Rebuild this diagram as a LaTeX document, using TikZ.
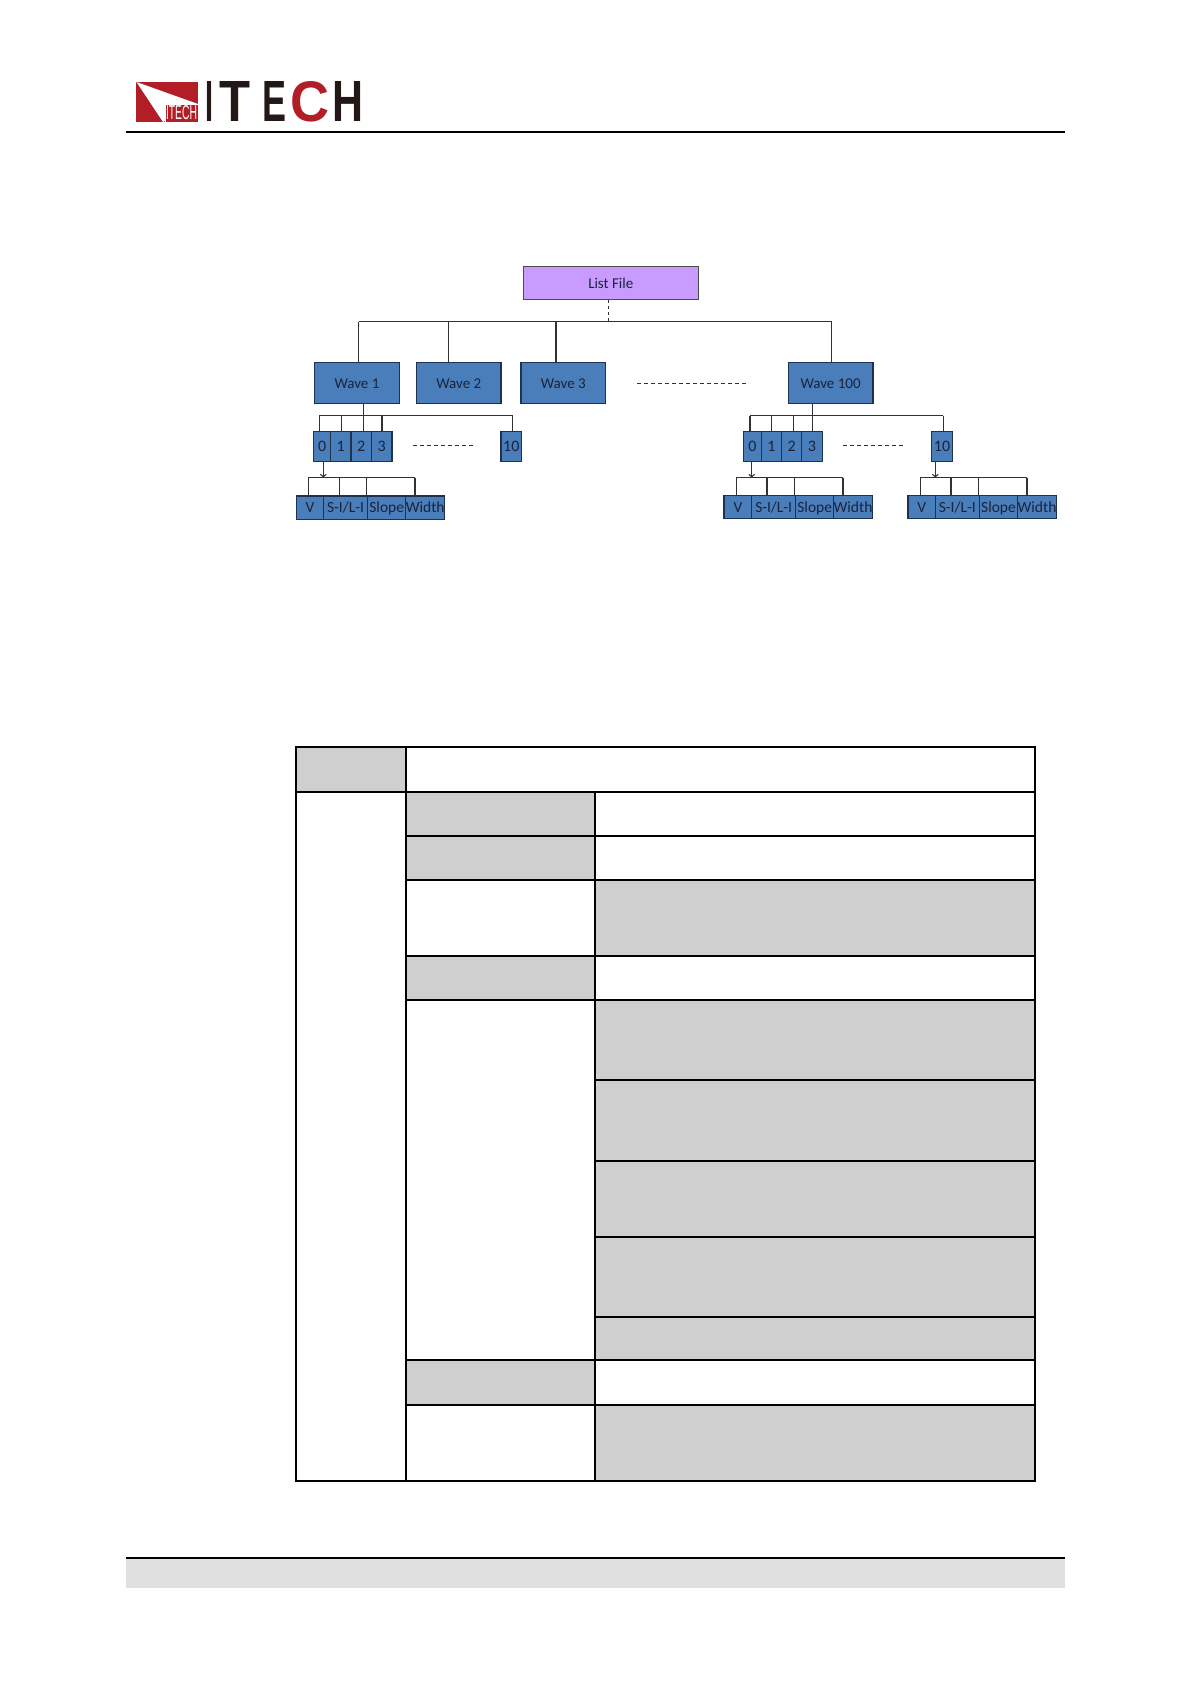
\documentclass[tikz,border=0pt]{standalone}
\usepackage{fontspec}
\setmainfont{Carlito}
\newfontfamily\logofont{Liberation Sans}
\definecolor{wavecolor}{RGB}{74,126,187}
\definecolor{filecolor}{RGB}{199,155,255}
\definecolor{edgecolor}{RGB}{30,50,80}
\definecolor{wirecolor}{RGB}{50,50,50}
\definecolor{labelcolor}{RGB}{25,35,60}
\definecolor{cellcolor}{RGB}{207,207,207}
\definecolor{bandcolor}{RGB}{224,224,224}
\definecolor{logored}{RGB}{178,30,38}
\definecolor{logoblack}{RGB}{35,24,21}

\begin{document}
\begin{tikzpicture}[x=1pt, y=-1pt,
                    block/.style={rectangle, draw=edgecolor, fill=wavecolor, line width=1.3pt,
                    text=labelcolor, inner sep=0pt, text height=10pt, text depth=0pt,
                    font=\fontsize{15}{18}\selectfont},
                    filebox/.style={block, fill=filecolor, draw=black!70, minimum width=175pt, minimum height=32.6pt},
                    wavebox/.style={block, minimum width=84.6pt, minimum height=40.6pt},
                    stepcell/.style={block, minimum height=29.6pt, font=\fontsize{16}{18}\selectfont},
                    fieldcell/.style={block, minimum height=23.3pt, font=\fontsize{15.5}{18}\selectfont},
                    wire/.style={draw=wirecolor, line width=1.35pt},
                    gapline/.style={draw=black!80, line width=1pt, dashed, dash pattern=on 4pt off 3pt},
                    cell/.style={fill=cellcolor},
                    rule/.style={draw=black, line width=2pt}]
    \useasboundingbox (0,0) rectangle (1191,1684);

    \fill [logored] (136,82) rectangle (198,122);
    \fill [white] (136.5,82) -- (198,104) -- (163,122) -- cycle;
    \node [inner sep=0pt, fill=logored, draw=white, line width=0.4pt, text=white, minimum width=33pt, minimum height=18pt] (logosmall) at (181.5,113) {\logofont\resizebox{31pt}{14pt}{ITECH}};
    \node [inner sep=0pt, anchor=west] (logotext) at (205,102) {\logofont\bfseries\resizebox{8pt}{40pt}{\textcolor{logoblack}{I}}\hspace{6pt}\resizebox{31pt}{40pt}{\textcolor{logoblack}{T}}\hspace{12pt}\resizebox{24pt}{40pt}{\textcolor{logoblack}{E}}\hspace{4pt}\resizebox{39pt}{40pt}{\textcolor{logored}{C}}\hspace{3pt}\resizebox{31pt}{40pt}{\textcolor{logoblack}{H}}};
    \draw [line width=2pt] (126,132) -- (1065,132);

    \node [filebox] (listfile) at (610.8,283) {List File};
    \node [wavebox] (wave1) at (357,383) {Wave 1};
    \node [wavebox] (wave2) at (458.8,383) {Wave 2};
    \node [wavebox] (wave3) at (563.3,383) {Wave 3};
    \node [wavebox] (wave100) at (830.6,383) {Wave 100};

    \node [stepcell, minimum width=17pt] (a0) at (322.2,446.5) {0};
    \node [stepcell, minimum width=20.3pt] (a1) at (340.8,446.5) {1};
    \node [stepcell, minimum width=20.3pt] (a2) at (361.2,446.5) {2};
    \node [stepcell, minimum width=20.7pt] (a3) at (381.6,446.5) {3};
    \node [stepcell, minimum width=20.7pt] (a10) at (511.3,446.5) {10};
    \node [stepcell, minimum width=17.6pt] (b0) at (752.5,446.5) {0};
    \node [stepcell, minimum width=20.4pt] (b1) at (771.5,446.5) {1};
    \node [stepcell, minimum width=20pt] (b2) at (791.7,446.5) {2};
    \node [stepcell, minimum width=20.6pt] (b3) at (812,446.5) {3};
    \node [stepcell, minimum width=20.6pt] (b10) at (942,446.5) {10};

    \node [fieldcell, minimum width=27.4pt] (av) at (310,507.7) {V};
    \node [fieldcell, minimum width=43.6pt] (asl) at (345.5,507.7) {S-I/L-I};
    \node [fieldcell, minimum width=38.7pt] (aslope) at (386.7,507.7) {Slope};
    \node [fieldcell, minimum width=38.3pt] (awidth) at (425.2,507.7) {Width};
    \node [fieldcell, minimum width=27.7pt] (bv) at (737.9,507) {V};
    \node [fieldcell, minimum width=44pt] (bsl) at (773.7,507) {S-I/L-I};
    \node [fieldcell, minimum width=38pt] (bslope) at (814.7,507) {Slope};
    \node [fieldcell, minimum width=38.6pt] (bwidth) at (853,507) {Width};
    \node [fieldcell, minimum width=27.3pt] (cv) at (921.7,507) {V};
    \node [fieldcell, minimum width=44pt] (csl) at (957.3,507) {S-I/L-I};
    \node [fieldcell, minimum width=38.4pt] (cslope) at (998.5,507) {Slope};
    \node [fieldcell, minimum width=38.6pt] (cwidth) at (1037,507) {Width};

    \coordinate (top0) at (608,321.7);
    \coordinate (top1) at (358.7,321.7);
    \coordinate (top2) at (448.3,321.7);
    \coordinate (top3) at (556,321.7);
    \coordinate (top100) at (831.7,321.7);
    \coordinate (abus) at (363.3,415.7);
    \coordinate (abus0) at (319.3,415.7);
    \coordinate (abus1) at (341.3,415.7);
    \coordinate (abus3) at (382,415.7);
    \coordinate (abus10) at (512.7,415.7);
    \coordinate (bbus) at (812.7,415.7);
    \coordinate (bbus0) at (750,415.7);
    \coordinate (bbus1) at (771.3,415.7);
    \coordinate (bbus2) at (793.3,415.7);
    \coordinate (bbus10) at (943.3,415.7);
    \coordinate (af) at (323.3,477.7);
    \coordinate (af0) at (308.3,477.7);
    \coordinate (af1) at (339.3,477.7);
    \coordinate (af2) at (366.7,477.7);
    \coordinate (af3) at (415,477.7);
    \coordinate (bf) at (751.7,477.7);
    \coordinate (bf0) at (736.3,477.7);
    \coordinate (bf1) at (767,477.7);
    \coordinate (bf2) at (794.7,477.7);
    \coordinate (bf3) at (843,477.7);
    \coordinate (cf) at (935.3,477.7);
    \coordinate (cf0) at (920.3,477.7);
    \coordinate (cf1) at (951,477.7);
    \coordinate (cf2) at (978.7,477.7);
    \coordinate (cf3) at (1027,477.7);

    \draw [gapline, dash pattern=on 3.5pt off 2.5pt] (top0 |- listfile.south) -- (top0);
    \draw [wire] (top1) -- (top100);
    \draw [wire] (top1) -- (top1 |- wave1.north);
    \draw [wire] (top2) -- (top2 |- wave2.north);
    \draw [wire] (top3) -- (top3 |- wave3.north);
    \draw [wire] (top100) -- (top100 |- wave100.north);
    \draw [gapline, shorten <=31pt, shorten >=41pt] (wave3.east) -- (wave100.west);

    \draw [wire] (abus0) -- (abus10);
    \draw [wire] (abus |- wave1.south) -- (abus |- a2.north);
    \draw [wire] (abus0) -- (abus0 |- a0.north);
    \draw [wire] (abus1) -- (abus1 |- a1.north);
    \draw [wire] (abus3) -- (abus3 |- a3.north);
    \draw [wire] (abus10) -- (abus10 |- a10.north);
    \draw [gapline, shorten <=20pt, shorten >=26pt] ([yshift=1pt]a3.east) -- ([yshift=1pt]a10.west);

    \draw [wire] (bbus0) -- (bbus10);
    \draw [wire] (bbus |- wave100.south) -- (bbus |- b3.north);
    \draw [wire] (bbus0) -- (bbus0 |- b0.north);
    \draw [wire] (bbus1) -- (bbus1 |- b1.north);
    \draw [wire] (bbus2) -- (bbus2 |- b2.north);
    \draw [wire] (bbus10) -- (bbus10 |- b10.north);
    \draw [gapline, shorten <=20.4pt, shorten >=25.7pt] ([yshift=1pt]b3.east) -- ([yshift=1pt]b10.west);

    \draw [wire, ->] (af |- a0.south) -- (af);
    \draw [wire] (af0) -- (af3);
    \draw [wire] (af0) -- (af0 |- av.north);
    \draw [wire] (af1) -- (af1 |- asl.north);
    \draw [wire] (af2) -- (af2 |- aslope.north);
    \draw [wire] (af3) -- (af3 |- awidth.north);

    \draw [wire, ->] (bf |- b0.south) -- (bf);
    \draw [wire] (bf0) -- (bf3);
    \draw [wire] (bf0) -- (bf0 |- bv.north);
    \draw [wire] (bf1) -- (bf1 |- bsl.north);
    \draw [wire] (bf2) -- (bf2 |- bslope.north);
    \draw [wire] (bf3) -- (bf3 |- bwidth.north);

    \draw [wire, ->] (cf |- b10.south) -- (cf);
    \draw [wire] (cf0) -- (cf3);
    \draw [wire] (cf0) -- (cf0 |- cv.north);
    \draw [wire] (cf1) -- (cf1 |- csl.north);
    \draw [wire] (cf2) -- (cf2 |- cslope.north);
    \draw [wire] (cf3) -- (cf3 |- cwidth.north);

    \fill [cell] (296.3,746.7) rectangle (405.8,791.7);
    \fill [cell] (405.8,791.7) rectangle (594.7,880);
    \fill [cell] (594.7,880) rectangle (1034.9,955.7);
    \fill [cell] (405.8,955.7) rectangle (594.7,999.7);
    \fill [cell] (594.7,999.7) rectangle (1034.9,1360.3);
    \fill [cell] (405.8,1360.3) rectangle (594.7,1405);
    \fill [cell] (594.7,1405) rectangle (1034.9,1480.7);

    \draw [rule] (296.3,746.7) rectangle (1034.9,1480.7);
    \draw [rule] (405.8,746.7) -- (405.8,1480.7);
    \draw [rule] (594.7,791.7) -- (594.7,1480.7);
    \draw [rule] (296.3,791.7) -- (1034.9,791.7);
    \draw [rule] (405.8,835.7) -- (1034.9,835.7);
    \draw [rule] (405.8,880) -- (1034.9,880);
    \draw [rule] (405.8,955.7) -- (1034.9,955.7);
    \draw [rule] (405.8,999.7) -- (1034.9,999.7);
    \draw [rule] (594.7,1079.7) -- (1034.9,1079.7);
    \draw [rule] (594.7,1160.7) -- (1034.9,1160.7);
    \draw [rule] (594.7,1236.7) -- (1034.9,1236.7);
    \draw [rule] (594.7,1316.7) -- (1034.9,1316.7);
    \draw [rule] (405.8,1360.3) -- (1034.9,1360.3);
    \draw [rule] (405.8,1405) -- (1034.9,1405);

    \fill [bandcolor] (126,1558) rectangle (1065,1587.7);
    \draw [line width=2pt] (126,1557.7) -- (1065,1557.7);
\end{tikzpicture}
\end{document}
